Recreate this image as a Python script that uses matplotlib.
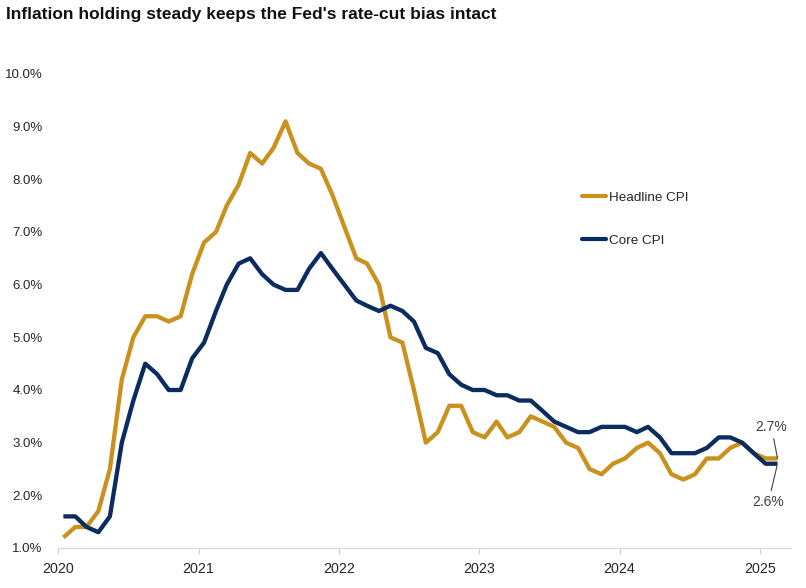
import matplotlib
matplotlib.use("Agg")
import matplotlib.pyplot as plt
import pandas as pd

# ---- data ----
start_month = "2020-01"
n_months = 62
headline_cpi = [1.2, 1.4, 1.4, 1.7, 2.5, 4.2, 5.0, 5.4, 5.4, 5.3, 5.4, 6.2,
                6.8, 7.0, 7.5, 7.9, 8.5, 8.3, 8.6, 9.1, 8.5, 8.3, 8.2, 7.7,
                7.1, 6.5, 6.4, 6.0, 5.0, 4.9, 4.0, 3.0, 3.2, 3.7, 3.7, 3.2,
                3.1, 3.4, 3.1, 3.2, 3.5, 3.4, 3.3, 3.0, 2.9, 2.5, 2.4, 2.6,
                2.7, 2.9, 3.0, 2.8, 2.4, 2.3, 2.4, 2.7, 2.7, 2.9, 3.0, 2.8,
                2.7, 2.7]
core_cpi = [1.6, 1.6, 1.4, 1.3, 1.6, 3.0, 3.8, 4.5, 4.3, 4.0, 4.0, 4.6,
            4.9, 5.5, 6.0, 6.4, 6.5, 6.2, 6.0, 5.9, 5.9, 6.3, 6.6, 6.3,
            6.0, 5.7, 5.6, 5.5, 5.6, 5.5, 5.3, 4.8, 4.7, 4.3, 4.1, 4.0,
            4.0, 3.9, 3.9, 3.8, 3.8, 3.6, 3.4, 3.3, 3.2, 3.2, 3.3, 3.3,
            3.3, 3.2, 3.3, 3.1, 2.8, 2.8, 2.8, 2.9, 3.1, 3.1, 3.0, 2.8,
            2.6, 2.6]
series_labels = ["Headline CPI", "Core CPI"]
year_ticks = ["2020", "2021", "2022", "2023", "2024", "2025"]
y_ticks = [1.0, 2.0, 3.0, 4.0, 5.0, 6.0, 7.0, 8.0, 9.0, 10.0]
title = "Inflation holding steady keeps the Fed's rate-cut bias intact"

# ---- figure ----
GOLD = "#C9921F"
NAVY = "#0B2C5F"
TXT = "#262626"
FAM = ["Liberation Sans", "DejaVu Sans"]

dates = pd.date_range(start_month + "-01", periods=n_months, freq="MS") + pd.Timedelta(days=14)

fig = plt.figure(figsize=(8.06, 5.88), dpi=100)
ax = fig.add_axes([58/806, 40/588, (791-58)/806, (548-74)/588])

ax.plot(dates, headline_cpi, color=GOLD, lw=3.1, label=series_labels[0],
        solid_joinstyle="round", solid_capstyle="butt")
ax.plot(dates, core_cpi, color=NAVY, lw=3.1, label=series_labels[1],
        solid_joinstyle="round", solid_capstyle="butt")

ax.set_ylim(1.0, 10.0)
ax.set_xlim(pd.Timestamp("2020-01-01"), pd.Timestamp("2025-03-22"))
ax.set_yticks(y_ticks)
ax.set_yticklabels([f"{v:.1f}%" for v in y_ticks], family=FAM, fontsize=9.5, color=TXT)
ax.tick_params(axis="y", length=0, pad=11)

xt = [pd.Timestamp(y + "-01-01") for y in year_ticks]
ax.set_xticks(xt)
ax.set_xticklabels(year_ticks, family=FAM, fontsize=10.3, color=TXT)
ax.tick_params(axis="x", length=4, width=0.8, color="#D0D0D0", pad=6)

for s in ["top", "right", "left"]:
    ax.spines[s].set_visible(False)
ax.spines["bottom"].set_color("#D9D9D9")
ax.spines["bottom"].set_linewidth(0.9)

leg = ax.legend(loc="upper left", bbox_to_anchor=(575/806, 1 - 185/588),
                bbox_transform=fig.transFigure, frameon=False,
                prop={"family": FAM, "size": 9.7},
                handlelength=1.8, handletextpad=0.2, labelspacing=2.25, borderpad=0)
for line in leg.get_lines():
    line.set_linewidth(3.0)
    line.set_solid_capstyle("round")
for t in leg.get_texts():
    t.set_color(TXT)

ax.annotate(f"{headline_cpi[-1]:.1f}%", xy=(dates[-1], headline_cpi[-1]),
            xytext=(-6, 31), textcoords="offset pixels", ha="center", va="center",
            fontsize=10, color="#404040", family=FAM,
            arrowprops=dict(arrowstyle="-", color="#404040", lw=0.8, shrinkA=1, shrinkB=0))
ax.annotate(f"{core_cpi[-1]:.1f}%", xy=(dates[-1], core_cpi[-1]),
            xytext=(-9, -38), textcoords="offset pixels", ha="center", va="center",
            fontsize=10, color="#404040", family=FAM,
            arrowprops=dict(arrowstyle="-", color="#404040", lw=0.8, shrinkA=1, shrinkB=2))

fig.text(6/806, 1 - 19/588, title, ha="left", va="baseline", fontsize=12.5, fontweight="bold",
         color="#111111", family=FAM)

fig.savefig("out.png", dpi=100, facecolor="white")
